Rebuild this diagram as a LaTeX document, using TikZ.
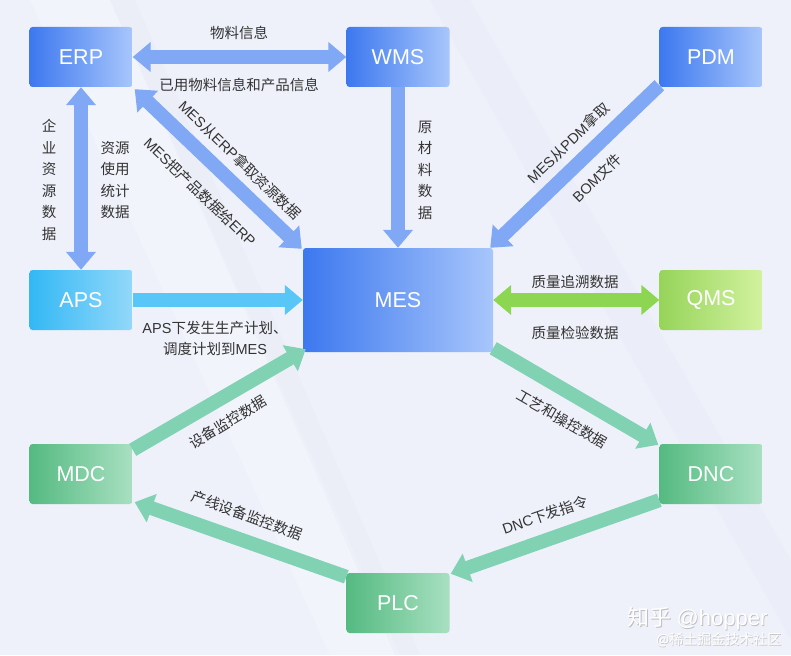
\documentclass[tikz,border=0pt]{standalone}
\usepackage{fontspec}
\setmainfont{Noto Sans CJK SC}
\newfontfamily\lat{Liberation Sans}
\usetikzlibrary{arrows.meta,calc}
\definecolor{bg}{HTML}{EEF1FA}
\definecolor{bgshade}{HTML}{E6E9F4}
\definecolor{bglight}{HTML}{F4F6FC}
\definecolor{blueL}{HTML}{3C78EF}
\definecolor{blueR}{HTML}{A8C6FB}
\definecolor{cyanL}{HTML}{33B8F5}
\definecolor{cyanR}{HTML}{92D8FA}
\definecolor{limeL}{HTML}{96D45A}
\definecolor{limeR}{HTML}{D2F29E}
\definecolor{greenL}{HTML}{55BA81}
\definecolor{greenR}{HTML}{A8E0C1}
\definecolor{arrBlue}{HTML}{80A8F5}
\definecolor{arrCyan}{HTML}{58C6F6}
\definecolor{arrLime}{HTML}{8DD651}
\definecolor{arrGreen}{HTML}{80D2B2}
\definecolor{txt}{HTML}{333333}
\tikzset{
  sysbox/.style={rounded corners=3pt, minimum width=103pt, minimum height=60pt,
    inner sep=0pt, text=white, font=\lat\fontsize{21.5}{21.5}\selectfont},
  bluebox/.style={sysbox, left color=blueL, right color=blueR},
  cyanbox/.style={sysbox, left color=cyanL, right color=cyanR},
  limebox/.style={sysbox, left color=limeL, right color=limeR},
  greenbox/.style={sysbox, left color=greenL, right color=greenR},
  fat/.style={line width=14pt},
  onehead/.style={fat, -{Triangle[width=29pt,length=18pt]}},
  twohead/.style={fat, {Triangle[width=29pt,length=18pt]}-{Triangle[width=29pt,length=18pt]}},
  lbl/.style={text=txt, font=\fontsize{14.5}{21}\selectfont, inner sep=1pt},
  vlbl/.style={lbl, align=center, font=\fontsize{14.5}{21.5}\selectfont},
}
\begin{document}
\begin{tikzpicture}[x=1pt,y=-1pt]
\useasboundingbox (0,0) rectangle (791,655);
\fill[bg] (0,0) rectangle (791,655);
% faint background bands
\fill[bglight, opacity=0.6] (30,0) -- (110,0) -- (400,655) -- (330,655) -- cycle;
\fill[bgshade, opacity=0.35] (110,0) -- (135,0) -- (420,655) -- (395,655) -- cycle;
\fill[bgshade, opacity=0.3] (430,0) -- (470,0) -- (791,560) -- (791,640) -- cycle;

% systems
\node[bluebox] (erp) at (81,57) {ERP};
\node[bluebox] (wms) at (398,57) {WMS};
\node[bluebox] (pdm) at (711,57) {PDM};
\node[cyanbox] (aps) at (81,300) {APS};
\node[bluebox, minimum width=190pt, minimum height=104pt] (mes) at (398,300) {MES};
\node[limebox] (qms) at (711,300) {QMS};
\node[greenbox] (mdc) at (81,474) {MDC};
\node[greenbox] (dnc) at (711,474) {DNC};
\node[greenbox] (plc) at (398,603) {PLC};

% connectors
\draw[arrBlue, twohead] (erp.east) -- (wms.west);
\draw[arrBlue, twohead] (erp.south) -- (aps.north);
\draw[arrBlue, twohead] ($(erp.south east)+(2,2)$) -- ($(mes.north west)+(-1,1)$);
\draw[arrBlue, onehead] (wms.south) -- (mes.north);
\draw[arrBlue, onehead] ($(pdm.south west)+(0,-2)$) -- ($(mes.north east)+(-3,0)$);
\draw[arrCyan, onehead] (aps.east) -- (mes.west);
\draw[arrLime, twohead] (mes.east) -- (qms.west);
\draw[arrGreen, onehead] ($(mdc.north east)+(0,6)$) -- ($(mes.south west)+(3,-3)$);
\draw[arrGreen, onehead] ($(mes.south east)+(0,-4)$) -- ($(dnc.north west)+(-1,1)$);
\draw[arrGreen, onehead] ($(dnc.south west)+(0,-4)$) -- ($(plc.north east)+(1,1)$);
\draw[arrGreen, onehead] ($(plc.north west)+(0,4)$) -- ($(mdc.south east)+(2,-2)$);

% labels
\node[lbl] (l1) at (239,33) {物料信息};
\node[lbl] (l2) at (239,85) {已用物料信息和产品信息};
\node[vlbl] (l3) at (49,180) {企\\业\\资\\源\\数\\据};
\node[vlbl] (l4) at (115,180) {资源\\使用\\统计\\数据};
\node[lbl, rotate=-44] (l5) at (240,160) {{\lat MES}从{\lat ERP}拿取资源数据};
\node[lbl, rotate=-44] (l6) at (200,192) {{\lat MES}把产品数据给{\lat ERP}};
\node[vlbl] (l7) at (425,170) {原\\材\\料\\数\\据};
\node[lbl, rotate=44] (l8) at (568,143) {{\lat MES}从{\lat PDM}拿取};
\node[lbl, rotate=44] (l9) at (597,178) {{\lat BOM}文件};
\node[lbl, align=center] (l10) at (215,338) {{\lat APS}下发生生产计划、\\调度计划到{\lat MES}};
\node[lbl] (l11) at (575,282) {质量追溯数据};
\node[lbl] (l12) at (575,333) {质量检验数据};
\node[lbl, rotate=31] (l13) at (228,422) {设备监控数据};
\node[lbl, rotate=-30] (l14) at (562,419) {工艺和操控数据};
\node[lbl, rotate=19] (l15) at (545,515) {{\lat DNC}下发指令};
\node[lbl, rotate=-20] (l16) at (247,515) {产线设备监控数据};

% watermark
\node[text=black!25, font=\fontsize{22}{22}\selectfont, anchor=east] (wm1s) at (771.8,619.8) {知乎 {\lat @hopper}};
\node[text=white, font=\fontsize{22}{22}\selectfont, anchor=east] (wm1) at (771,619) {知乎 {\lat @hopper}};
\node[text=black!22, font=\fontsize{14}{14}\selectfont, anchor=east] (wm2s) at (785.6,640.6) {@稀土掘金技术社区};
\node[text=white, font=\fontsize{14}{14}\selectfont, anchor=east] (wm2) at (785,640) {@稀土掘金技术社区};
\end{tikzpicture}
\end{document}
